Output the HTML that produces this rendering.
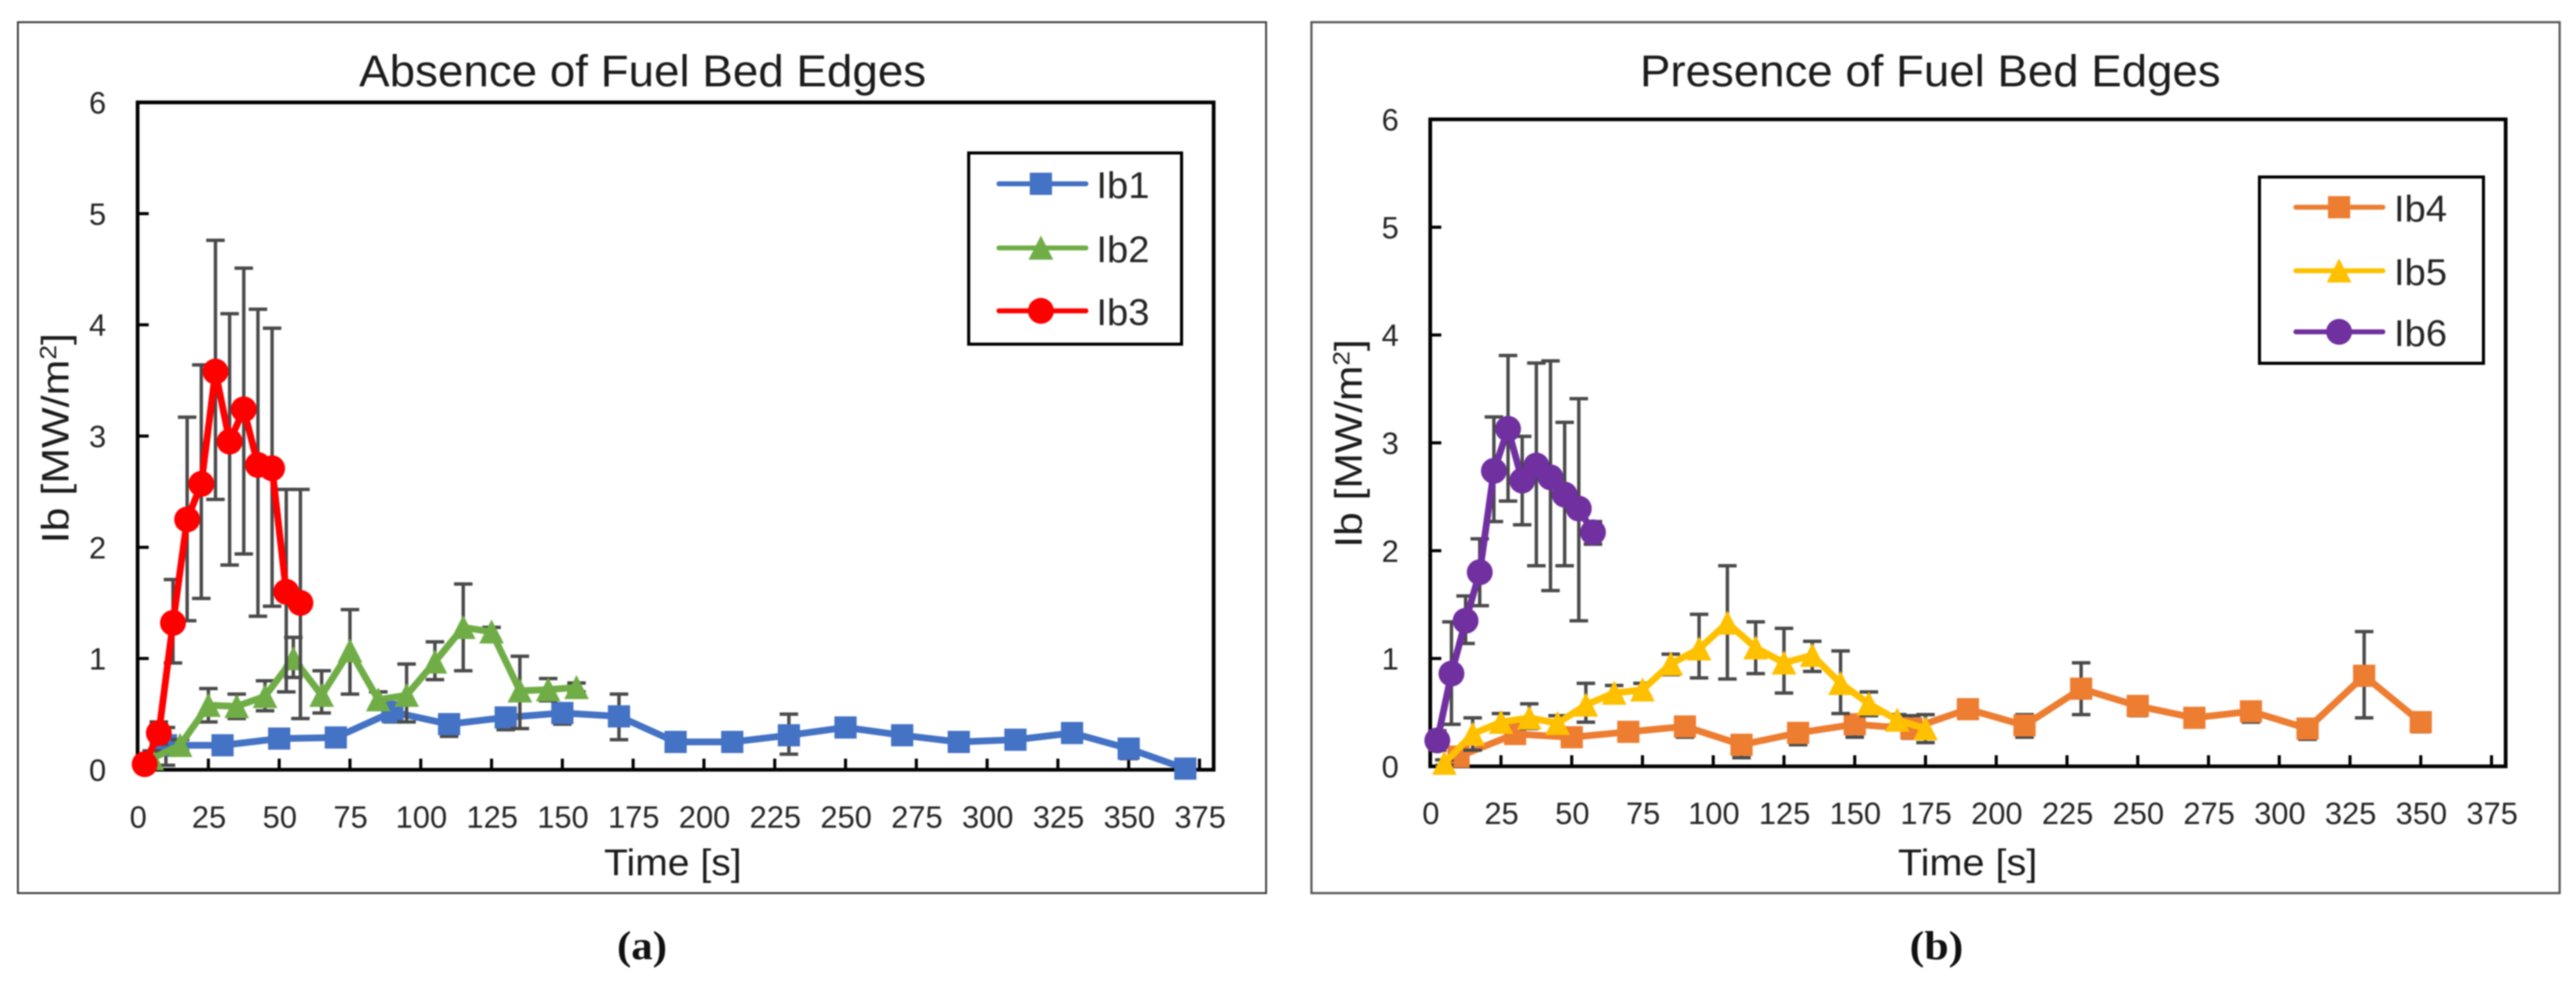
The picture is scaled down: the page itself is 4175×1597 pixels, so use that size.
<!DOCTYPE html>
<html lang="en">
<head>
<meta charset="utf-8">
<title>Ib versus time: absence and presence of fuel bed edges</title>
<style>
html,body{margin:0;padding:0;background:#fff;}
svg{display:block;filter:blur(1px);}
text{font-family:"Liberation Sans",sans-serif;}
.serif{font-family:"Liberation Serif",serif;font-weight:bold;fill:#111;}
</style>
</head>
<body>
<svg id="figure" xmlns="http://www.w3.org/2000/svg" width="4175" height="1597" viewBox="0 0 4175 1597">
  <rect x="0" y="0" width="4175" height="1597" fill="#fff"/>
  <g id="panel-a">
    <rect x="29" y="36" width="2023" height="1412" fill="#fff" stroke="#3a3a3a" stroke-width="3"/>
    <text x="582" y="140" font-size="72" fill="#1c1c1c" textLength="919" lengthAdjust="spacingAndGlyphs">Absence of Fuel Bed Edges</text>
    <text transform="translate(111,881) rotate(-90)" font-size="62" fill="#1c1c1c" textLength="341" lengthAdjust="spacingAndGlyphs">Ib [MW/m<tspan dy="-20" font-size="38">2</tspan><tspan dy="20">]</tspan></text>
    <text x="979" y="1419" font-size="60" fill="#1c1c1c" textLength="223" lengthAdjust="spacingAndGlyphs">Time [s]</text>
    <text class="serif" x="1000" y="1555" font-size="66" textLength="81" lengthAdjust="spacingAndGlyphs">(a)</text>
  </g>
  <g id="panel-b">
    <rect x="2125.5" y="36" width="2023" height="1412" fill="#fff" stroke="#555" stroke-width="3.5"/>
    <text x="2658" y="140" font-size="72" fill="#1c1c1c" textLength="941" lengthAdjust="spacingAndGlyphs">Presence of Fuel Bed Edges</text>
    <text transform="translate(2207,888) rotate(-90)" font-size="62" fill="#1c1c1c" textLength="338" lengthAdjust="spacingAndGlyphs">Ib [MW/m<tspan dy="-20" font-size="38">2</tspan><tspan dy="20">]</tspan></text>
    <text x="3076" y="1419" font-size="60" fill="#1c1c1c" textLength="226" lengthAdjust="spacingAndGlyphs">Time [s]</text>
    <text class="serif" x="3095" y="1555" font-size="66" textLength="87" lengthAdjust="spacingAndGlyphs">(b)</text>
  </g>
</svg>
<script>
const xTickLabels = [0,25,50,75,100,125,150,175,200,225,250,275,300,325,350,375];
const yTickLabels = [0,1,2,3,4,5,6];

const ib1Times = [10,30,50,70,90,110,130,150,170,190,210,230,250,270,290,310,330,350,370];
const ib1Values = [0.22,0.22,0.28,0.29,0.52,0.41,0.47,0.51,0.48,0.25,0.25,0.31,0.38,0.31,0.25,0.27,0.33,0.19,0.01];
const ib1Upper = [0.38,0.28,0.34,0.33,0.60,0.47,0.53,0.58,0.68,0.30,0.28,0.50,0.42,0.35,0.30,0.31,0.37,0.23,0.03];
const ib1Lower = [0.04,0.16,0.20,0.25,0.43,0.30,0.36,0.41,0.27,0.17,0.22,0.14,0.34,0.27,0.18,0.19,0.29,0.10,0.00];

const ib2Times = [5,15,25,35,45,55,65,75,85,95,105,115,125,135,145,155];
const ib2Values = [0.10,0.22,0.58,0.57,0.66,1.00,0.67,1.07,0.63,0.67,0.97,1.28,1.24,0.71,0.72,0.74];
const ib2Upper = [0.17,0.27,0.73,0.68,0.80,1.19,0.89,1.44,0.70,0.95,1.15,1.67,1.28,1.02,0.82,0.78];
const ib2Lower = [0.03,0.17,0.43,0.46,0.53,0.83,0.51,0.68,0.57,0.43,0.81,0.89,1.18,0.37,0.62,0.70];

const ib3Times = [2.5,7.5,12.5,17.5,22.5,27.5,32.5,37.5,42.5,47.5,52.5,57.5];
const ib3Values = [0.05,0.33,1.32,2.25,2.57,3.58,2.95,3.24,2.74,2.71,1.60,1.50];
const ib3Upper = [0.08,0.43,1.71,3.17,3.64,4.76,4.10,4.51,4.14,3.97,2.52,2.52];
const ib3Lower = [0.02,0.23,0.96,1.34,1.54,2.43,1.84,1.94,1.38,1.47,0.70,0.46];

const ib4Times = [10,30,50,70,90,110,130,150,170,190,210,230,250,270,290,310,330,350];
const ib4Values = [0.09,0.30,0.27,0.32,0.37,0.20,0.31,0.39,0.35,0.53,0.38,0.72,0.56,0.45,0.51,0.35,0.84,0.41];
const ib4Upper = [0.15,0.35,0.32,0.38,0.45,0.26,0.36,0.44,0.47,0.57,0.48,0.96,0.60,0.49,0.57,0.40,1.25,0.45];
const ib4Lower = [0.04,0.25,0.22,0.25,0.27,0.08,0.20,0.27,0.26,0.49,0.27,0.48,0.47,0.41,0.41,0.25,0.45,0.32];

const ib5Times = [5,15,25,35,45,55,65,75,85,95,105,115,125,135,145,155,165,175];
const ib5Values = [0.03,0.30,0.41,0.45,0.40,0.57,0.68,0.71,0.95,1.09,1.33,1.10,0.96,1.03,0.77,0.58,0.43,0.35];
const ib5Upper = [0.06,0.45,0.49,0.58,0.47,0.77,0.75,0.77,1.04,1.41,1.86,1.34,1.28,1.16,1.07,0.69,0.48,0.48];
const ib5Lower = [0.01,0.15,0.33,0.35,0.33,0.41,0.62,0.65,0.85,0.82,0.81,0.86,0.68,0.88,0.49,0.47,0.38,0.22];

const ib6Times = [2.5,7.5,12.5,17.5,22.5,27.5,32.5,37.5,42.5,47.5,52.5,57.5];
const ib6Values = [0.24,0.86,1.35,1.80,2.74,3.13,2.65,2.79,2.68,2.52,2.39,2.17];
const ib6Upper = [0.33,1.34,1.58,2.11,3.24,3.81,3.06,3.74,3.76,3.19,3.41,2.27];
const ib6Lower = [0.15,0.39,1.14,1.49,2.27,2.46,2.24,1.86,1.63,1.86,1.35,2.06];

const SVG_NS = 'http://www.w3.org/2000/svg';
const X_MAX = 380;
const Y_MAX = 6;

function shape(tag, attrs, parent) {
  const el = document.createElementNS(SVG_NS, tag);
  for (const key in attrs) el.setAttribute(key, attrs[key]);
  parent.appendChild(el);
  return el;
}

function marker(kind, cx, cy, color, parent) {
  let el;
  if (kind === 'square') {
    el = shape('rect', {x: cx - 18, y: cy - 18, width: 36, height: 36, fill: color}, parent);
  } else if (kind === 'triangle') {
    el = shape('polygon', {points: (cx) + ',' + (cy - 20) + ' ' + (cx + 20) + ',' + (cy + 19) + ' ' + (cx - 20) + ',' + (cy + 19), fill: color}, parent);
  } else {
    el = shape('circle', {cx: cx, cy: cy, r: 21, fill: color}, parent);
  }
  return el;
}

function drawPanel(panelId, box, labels, legend, seriesList) {
  const panel = document.getElementById(panelId);
  const xScale = function (t) { return box.left + (t / X_MAX) * (box.right - box.left); };
  const yScale = function (v) { return box.bottom - (v / Y_MAX) * (box.bottom - box.top); };

  const plotArea = shape('rect', {x: box.left, y: box.top, width: box.right - box.left, height: box.bottom - box.top, fill: '#fff', stroke: '#000', 'stroke-width': 6}, panel);
  
  

  xTickLabels.forEach(function (label) {
    const px = xScale(label);
    const tick = shape('line', {x1: px, x2: px, y1: box.bottom, y2: box.bottom - 18, stroke: '#000', 'stroke-width': 5}, panel);
    
    
    const text = shape('text', {x: px + 1, y: labels.xBaseline, 'font-size': 50, fill: '#262626', 'text-anchor': 'middle'}, panel);
    text.textContent = label;
    
    
  });

  yTickLabels.forEach(function (label) {
    const py = yScale(label);
    const tick = shape('line', {x1: box.left, x2: box.left + 18, y1: py, y2: py, stroke: '#000', 'stroke-width': 5}, panel);
    
    
    const text = shape('text', {x: labels.yRight, y: py + labels.yOffset, 'font-size': 50, fill: '#262626', 'text-anchor': 'end'}, panel);
    text.textContent = label;
    
    
  });

  seriesList.forEach(function (series) {
    const group = shape('g', {}, panel);
    
    

    series.times.forEach(function (t, i) {
      const px = xScale(t);
      const up = yScale(series.upper[i]);
      const low = yScale(series.lower[i]);
      const bar = shape('path', {d: 'M' + (px - 15) + ' ' + up + 'H' + (px + 15) + 'M' + px + ' ' + up + 'V' + low + 'M' + (px - 15) + ' ' + low + 'H' + (px + 15), fill: 'none', stroke: '#4a4a4a', 'stroke-width': 5.5}, group);
      
      
    });

    const points = series.times.map(function (t, i) { return xScale(t) + ',' + yScale(series.values[i]); }).join(' ');
    const line = shape('polyline', {points: points, fill: 'none', stroke: series.color, 'stroke-width': 11, 'stroke-linejoin': 'round', 'stroke-linecap': 'round'}, group);
    
    

    series.times.forEach(function (t, i) {
      const dot = marker(series.kind, xScale(t), yScale(series.values[i]), series.color, group);
      
      
    });
  });

  const legendGroup = shape('g', {}, panel);
  
  
  const legendBox = shape('rect', {x: legend.left, y: legend.top, width: legend.right - legend.left, height: legend.bottom - legend.top, fill: '#fff', stroke: '#000', 'stroke-width': 5}, legendGroup);
  
  
  seriesList.forEach(function (series, i) {
    const rowY = legend.rowY[i];
    const sample = shape('line', {x1: legend.lineStart, x2: legend.lineEnd, y1: rowY, y2: rowY, stroke: series.color, 'stroke-width': 8, 'stroke-linecap': 'round'}, legendGroup);
    
    
    const icon = marker(series.kind, legend.markerX, rowY, series.color, legendGroup);
    
    
    const text = shape('text', {x: legend.textX, y: rowY + 23, 'font-size': 60, fill: '#262626', textLength: 86, lengthAdjust: 'spacingAndGlyphs'}, legendGroup);
    text.textContent = series.name;
    
    
  });
}

drawPanel('panel-a',
  {left: 223, right: 1967, top: 166, bottom: 1248},
  {xBaseline: 1342, yRight: 172, yOffset: 18},
  {left: 1570, right: 1915, top: 248, bottom: 558, lineStart: 1619, lineEnd: 1760, markerX: 1687, textX: 1777, rowY: [298, 402, 504]},
  [
    {name: 'Ib1', kind: 'square', color: '#4472C4', times: ib1Times, values: ib1Values, upper: ib1Upper, lower: ib1Lower},
    {name: 'Ib2', kind: 'triangle', color: '#70AD47', times: ib2Times, values: ib2Values, upper: ib2Upper, lower: ib2Lower},
    {name: 'Ib3', kind: 'circle', color: '#FF0000', times: ib3Times, values: ib3Values, upper: ib3Upper, lower: ib3Lower}
  ]);

drawPanel('panel-b',
  {left: 2318, right: 4061, top: 193.5, bottom: 1242.5},
  {xBaseline: 1336, yRight: 2267, yOffset: 18},
  {left: 3662, right: 4025, top: 287, bottom: 589, lineStart: 3721, lineEnd: 3862, markerX: 3791, textX: 3880, rowY: [336, 439, 538]},
  [
    {name: 'Ib4', kind: 'square', color: '#ED7D31', times: ib4Times, values: ib4Values, upper: ib4Upper, lower: ib4Lower},
    {name: 'Ib5', kind: 'triangle', color: '#FFC000', times: ib5Times, values: ib5Values, upper: ib5Upper, lower: ib5Lower},
    {name: 'Ib6', kind: 'circle', color: '#7030A0', times: ib6Times, values: ib6Values, upper: ib6Upper, lower: ib6Lower}
  ]);
</script>
</body>
</html>
